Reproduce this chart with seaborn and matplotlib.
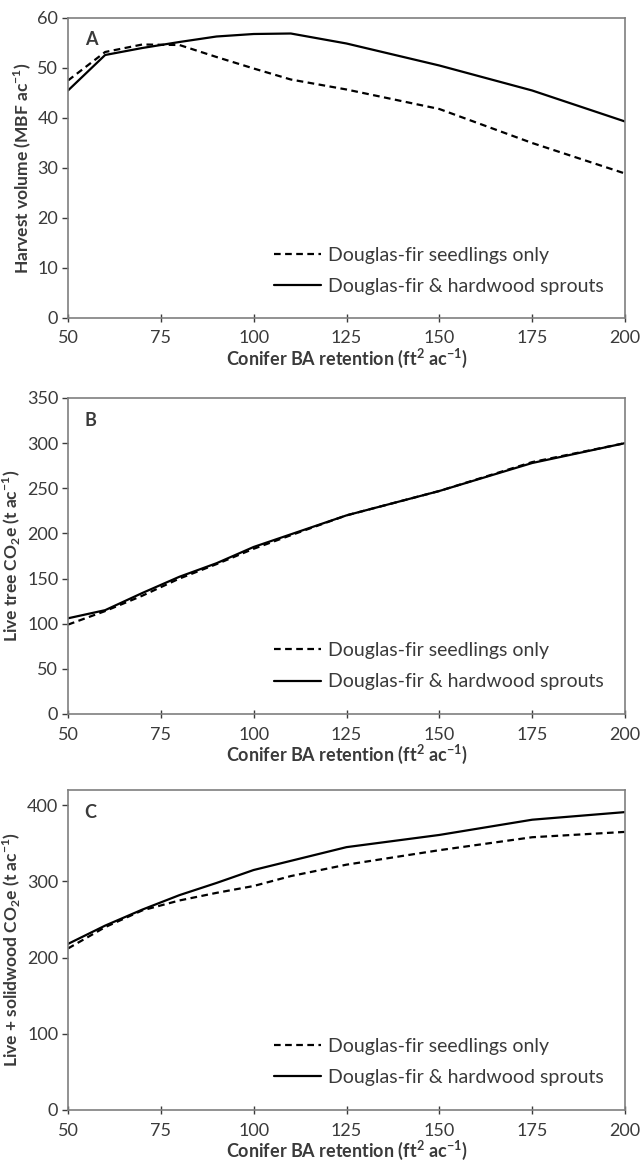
import pandas as pd
import seaborn as sns
import matplotlib.pyplot as plt

# retention levels (ft2/ac) and results per panel
retention = [50, 60, 70, 80, 90, 100, 110, 125, 150, 175, 200]

harvest_seedlings = [47.5, 53.2, 54.7, 54.6, 52.2, 49.9, 47.7, 45.7, 41.8, 35.0, 28.9]
harvest_sprouts = [45.5, 52.6, 54.0, 55.2, 56.3, 56.8, 56.9, 54.9, 50.5, 45.5, 39.3]

live_seedlings = [99, 114, 131, 150, 166, 183, 198, 220, 247, 279, 300]
live_sprouts = [106, 115, 134, 152, 167, 185, 199, 220, 247, 278, 300]

total_seedlings = [212, 240, 262, 275, 285, 294, 307, 322, 341, 358, 365]
total_sprouts = [218, 242, 263, 282, 298, 315, 327, 345, 361, 381, 391]

series_names = ["Douglas-fir seedlings only", "Douglas-fir & hardwood sprouts"]

sns.set_style("ticks")
plt.rcParams["font.family"] = ["Lato", "DejaVu Sans"]
plt.rcParams["mathtext.fontset"] = "custom"
plt.rcParams["mathtext.rm"] = "Lato"
plt.rcParams["mathtext.bf"] = "Lato:bold"

panels = [
    ("A", "Harvest volume (MBF ac$^{\\mathbf{-1}}$)", harvest_seedlings, harvest_sprouts,
     (0, 60), [0, 10, 20, 30, 40, 50, 60]),
    ("B", "Live tree CO$_{\\mathbf{2}}$e (t ac$^{\\mathbf{-1}}$)", live_seedlings, live_sprouts,
     (0, 350), [0, 50, 100, 150, 200, 250, 300, 350]),
    ("C", "Live + solidwood CO$_{\\mathbf{2}}$e (t ac$^{\\mathbf{-1}}$)", total_seedlings, total_sprouts,
     (0, 420), [0, 100, 200, 300, 400]),
]

fig = plt.figure(figsize=(6.43, 11.62), dpi=100)
W, H = 643, 1162
boxes = [(18, 318), (398, 714), (790, 1110)]
grey = "#3a3a3a"

for (letter, ylab, dashed, solid, ylim, yticks), (top, bottom) in zip(panels, boxes):
    ax = fig.add_axes([68 / W, 1 - bottom / H, (625 - 68) / W, (bottom - top) / H])
    df = pd.DataFrame({
        "x": retention * 2,
        "y": dashed + solid,
        "series": [series_names[0]] * len(retention) + [series_names[1]] * len(retention),
    })
    sns.lineplot(data=df, x="x", y="y", hue="series", style="series",
                 palette=["black", "black"], dashes=[(3, 2), ""],
                 linewidth=1.6, ax=ax)
    ax.set_xlim(50, 200)
    ax.set_ylim(*ylim)
    ax.set_xticks([50, 75, 100, 125, 150, 175, 200])
    ax.set_yticks(yticks)
    ax.tick_params(labelsize=13, colors=grey, length=4, width=1, pad=3)
    ax.tick_params(axis="x", direction="inout", length=6, pad=6)
    for s in ax.spines.values():
        s.set_visible(True)
        s.set_color("#7f7f7f")
        s.set_linewidth(1.2)
    ax.set_xlabel("Conifer BA retention (ft$^{\\mathbf{2}}$ ac$^{\\mathbf{-1}}$)",
                  fontsize=13, fontweight="bold", color=grey, labelpad=0)
    ax.set_ylabel(ylab, fontsize=12.5, fontweight="bold", color=grey, labelpad=3)
    ax.text(0.03, 0.955, letter, transform=ax.transAxes, fontsize=13,
            fontweight="bold", color=grey, va="top", ha="left")
    ax.legend(loc="lower right", bbox_to_anchor=(0.975, 0.05), borderaxespad=0,
              frameon=False, fontsize=14, handlelength=2.4, handletextpad=0.35,
              labelspacing=0.75, labelcolor=grey)

fig.savefig("out.png", dpi=100)
